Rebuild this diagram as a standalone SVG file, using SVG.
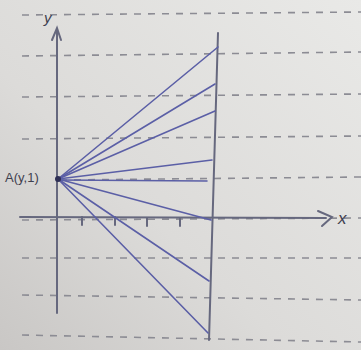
<svg xmlns="http://www.w3.org/2000/svg" width="361" height="350" viewBox="0 0 361 350">
<defs>
<linearGradient id="bg" x1="1" y1="0" x2="0" y2="1">
<stop offset="0" stop-color="#e9e9e7"/>
<stop offset="0.6" stop-color="#dcdbd9"/>
<stop offset="1" stop-color="#c9c7c5"/>
</linearGradient>
<style>
.rule{stroke:#8c8c94;stroke-width:1.6;stroke-dasharray:7 7;fill:none}
.ray{stroke:#5b5fa6;stroke-width:1.6;fill:none;stroke-linecap:round}
.axis{stroke:#66687e;stroke-width:2;fill:none;stroke-linecap:round}
.lbl{font-family:"Liberation Sans",Arial,sans-serif;fill:#3f3f4f}
</style>
</defs>
<rect width="361" height="350" fill="url(#bg)"/>
<g id="paper">
<line class="rule" x1="22" y1="15" x2="361" y2="12"/>
<line class="rule" x1="22" y1="56" x2="361" y2="52"/>
<line class="rule" x1="22" y1="97" x2="361" y2="94"/>
<line class="rule" x1="22" y1="139" x2="361" y2="136"/>
<line class="rule" x1="60" y1="180" x2="361" y2="177"/>
<line class="rule" x1="22" y1="220" x2="361" y2="218"/>
<line class="rule" x1="22" y1="258" x2="361" y2="258"/>
<line class="rule" x1="22" y1="295" x2="361" y2="300"/>
<line class="rule" x1="22" y1="335" x2="361" y2="342"/>
</g>
<g id="axes">
<line class="axis" x1="57" y1="30" x2="57" y2="313"/>
<polyline class="axis" points="52,40 57,28 61,40"/>
<line class="axis" x1="20" y1="217" x2="326" y2="218"/>
<polyline class="axis" points="318,211 332,217 322,226"/>
<line class="axis" x1="82" y1="217" x2="82" y2="225"/>
<line class="axis" x1="115" y1="217" x2="115" y2="225"/>
<line class="axis" x1="147" y1="218" x2="147" y2="226"/>
<line class="axis" x1="180" y1="218" x2="180" y2="226"/>
</g>
<g id="boundary">
<line class="axis" x1="218" y1="33" x2="209" y2="340" stroke="#5a5c80"/>
</g>
<g id="connectors">
<line class="ray" x1="58" y1="179" x2="218" y2="47"/>
<line class="ray" x1="58" y1="179" x2="215" y2="84"/>
<line class="ray" x1="58" y1="179" x2="215" y2="111"/>
<line class="ray" x1="58" y1="179" x2="212" y2="160"/>
<line class="ray" x1="58" y1="180" x2="207" y2="181" stroke-width="2.2" stroke="#50527a"/>
<line class="ray" x1="58" y1="179" x2="211" y2="220"/>
<line class="ray" x1="58" y1="179" x2="209" y2="281"/>
<line class="ray" x1="58" y1="179" x2="208" y2="333"/>
<circle cx="58" cy="179" r="3" fill="#2e2f55"/>
</g>
<g id="labels">
<text class="lbl" x="44" y="23" font-size="15" font-style="italic">y</text>
<text class="lbl" x="338" y="224" font-size="17" font-style="italic">x</text>
<text class="lbl" x="5" y="182" font-size="13">A(y,1)</text>
</g>
</svg>
